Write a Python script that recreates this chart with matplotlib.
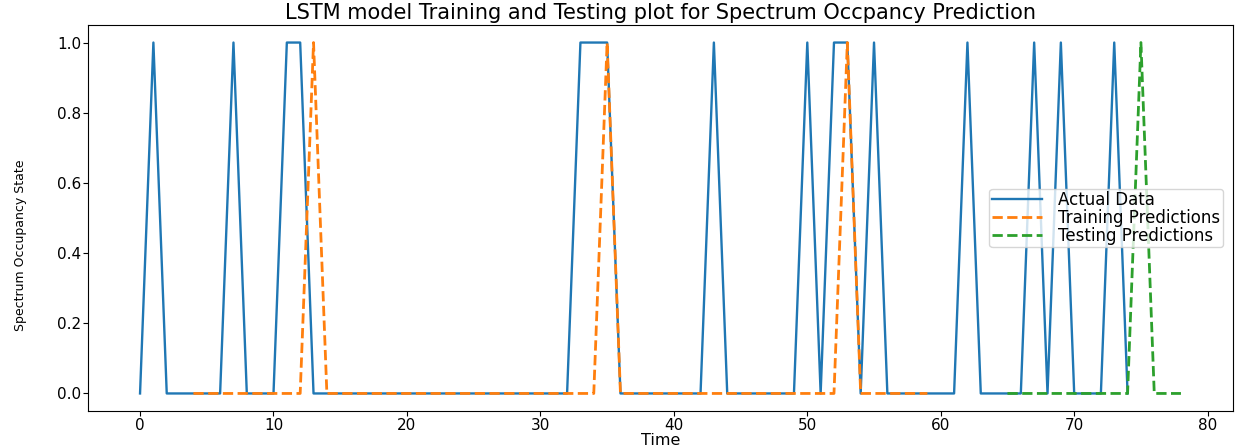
import numpy as np
import matplotlib.pyplot as plt

# ========== data ==========
actual = [0, 1, 0, 0, 0, 0, 0, 1, 0, 0,
          0, 1, 1, 0, 0, 0, 0, 0, 0, 0,
          0, 0, 0, 0, 0, 0, 0, 0, 0, 0,
          0, 0, 0, 1, 1, 1, 0, 0, 0, 0,
          0, 0, 0, 1, 0, 0, 0, 0, 0, 0,
          1, 0, 1, 1, 0, 1, 0, 0, 0, 0,
          0, 0, 1, 0, 0, 0, 0, 1, 0, 1,
          0, 0, 0, 1, 0]

train_start = 4
train_pred = [0, 0, 0, 0, 0, 0, 0, 0, 0, 1,   # t = 4..13
              0, 0, 0, 0, 0, 0, 0, 0, 0, 0,   # 14..23
              0, 0, 0, 0, 0, 0, 0, 0, 0, 0,   # 24..33
              0, 1, 0, 0, 0, 0, 0, 0, 0, 0,   # 34..43
              0, 0, 0, 0, 0, 0, 0, 0, 0, 1,   # 44..53
              0, 0, 0, 0, 0, 0]               # 54..59

test_start = 65
test_pred = [0, 0, 0, 0, 0, 0, 0, 0, 0, 0,    # t = 65..74
             1, 0, 0, 0]                      # 75..78

t_actual = np.arange(len(actual))
t_train = np.arange(train_start, train_start + len(train_pred))
t_test = np.arange(test_start, test_start + len(test_pred))

# ========== plot ==========
fig = plt.figure(figsize=(12.35, 4.48), dpi=100)
ax = fig.add_axes([88 / 1235, 1 - 411 / 448, 1145 / 1235, 386 / 448])

ax.plot(t_actual, actual, label='Actual Data', linewidth=1.7)
ax.plot(t_train, train_pred, '--', label='Training Predictions', linewidth=2)
ax.plot(t_test, test_pred, '--', label='Testing Predictions', linewidth=2)

ax.set_title('LSTM model Training and Testing plot for Spectrum Occpancy Prediction',
             fontsize=15, pad=4)
ax.set_xlabel('Time', fontsize=11.5, labelpad=0)
ax.set_ylabel('Spectrum Occupancy State', fontsize=9)
ax.yaxis.set_label_coords(-0.053, 0.43)
ax.tick_params(labelsize=11, pad=1.5)
ax.legend(loc='center right', fontsize=12, labelspacing=0.0, borderpad=0.15,
          handlelength=3.0, handletextpad=1.0, borderaxespad=0.6)

fig.savefig('out.png', dpi=100)
